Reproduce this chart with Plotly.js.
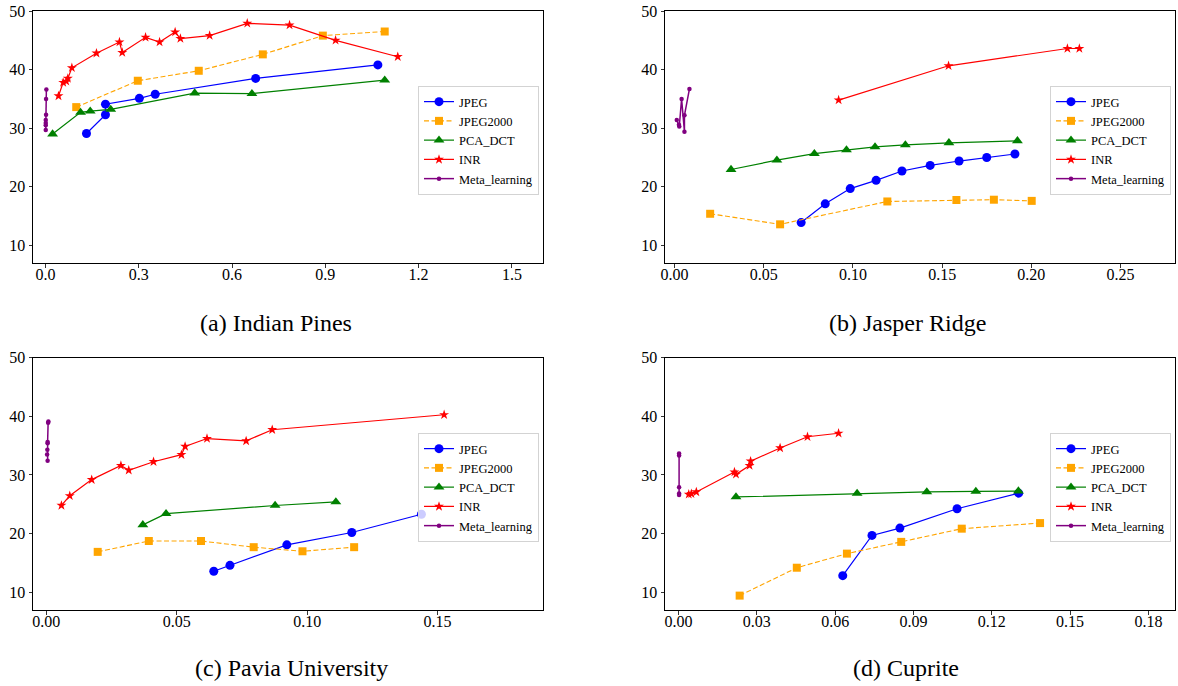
<!DOCTYPE html>
<html>
<head>
<meta charset="utf-8">
<script src="https://cdn.plot.ly/plotly-3.0.1.min.js"></script>
<style>
html,body{margin:0;padding:0;background:#fff;}
#chart{width:1178px;height:686px;}
</style>
</head>
<body>
<div id="chart"></div>
<script>
// ---------- data ----------
var seriesNames = ["JPEG", "JPEG2000", "PCA_DCT", "INR", "Meta_learning"];
var captions = ["(a) Indian Pines", "(b) Jasper Ridge", "(c) Pavia University", "(d) Cuprite"];
var yTickVals = [10, 20, 30, 40, 50];

// (a) Indian Pines
var ipJpegX = [0.132, 0.193, 0.193, 0.302, 0.353, 0.676, 1.069];
var ipJpegY = [29.1, 32.3, 34.1, 35.1, 35.8, 38.5, 40.8];
var ipJ2kX = [0.099, 0.297, 0.493, 0.699, 0.892, 1.091];
var ipJ2kY = [33.6, 38.1, 39.8, 42.6, 45.8, 46.5];
var ipPcaX = [0.023, 0.113, 0.144, 0.210, 0.480, 0.664, 1.091];
var ipPcaY = [29.0, 32.7, 32.9, 33.2, 36.0, 35.9, 38.2];
var ipInrX = [0.042, 0.057, 0.067, 0.072, 0.085, 0.164, 0.238, 0.247, 0.322, 0.367, 0.417, 0.434, 0.528, 0.649, 0.785, 0.933, 1.133];
var ipInrY = [35.5, 37.8, 38.0, 38.5, 40.3, 42.8, 44.7, 42.9, 45.5, 44.7, 46.4, 45.3, 45.8, 47.9, 47.6, 45.0, 42.2];
var ipMetaX = [0.003, 0.002, 0.002, 0.001, 0.001, 0.001, 0.001];
var ipMetaY = [36.6, 35.0, 32.3, 31.4, 30.9, 30.5, 29.7];
var ipTickVals = [0.0, 0.3, 0.6, 0.9, 1.2, 1.5];

// (b) Jasper Ridge
var jrJpegX = [0.0710, 0.0845, 0.0985, 0.1130, 0.1275, 0.1433, 0.1595, 0.1750, 0.1908];
var jrJpegY = [13.9, 17.1, 19.7, 21.1, 22.7, 23.65, 24.4, 25.0, 25.6];
var jrJ2kX = [0.0200, 0.0592, 0.1193, 0.1580, 0.1790, 0.2002];
var jrJ2kY = [15.4, 13.6, 17.5, 17.75, 17.8, 17.6];
var jrPcaX = [0.0317, 0.0574, 0.0784, 0.0964, 0.1124, 0.1294, 0.1538, 0.1922];
var jrPcaY = [22.95, 24.55, 25.65, 26.3, 26.8, 27.15, 27.5, 27.85];
var jrInrX = [0.0920, 0.1536, 0.2202, 0.2269];
var jrInrY = [34.8, 40.65, 43.6, 43.6];
var jrMetaX = [0.0013, 0.0025, 0.0027, 0.0040, 0.0056, 0.0056, 0.0084];
var jrMetaY = [31.4, 30.6, 30.3, 35.0, 29.4, 32.2, 36.7];
var jrTickVals = [0.00, 0.05, 0.10, 0.15, 0.20, 0.25];

// (c) Pavia University
var puJpegX = [0.0642, 0.0704, 0.0922, 0.1171, 0.1438];
var puJpegY = [13.6, 14.6, 18.1, 20.2, 23.3];
var puJ2kX = [0.0197, 0.0393, 0.0593, 0.0795, 0.0982, 0.1180];
var puJ2kY = [16.9, 18.75, 18.75, 17.7, 17.0, 17.7];
var puPcaX = [0.0370, 0.0459, 0.0877, 0.1110];
var puPcaY = [21.5, 23.4, 24.8, 25.4];
var puInrX = [0.0058, 0.0090, 0.0174, 0.0286, 0.0316, 0.0411, 0.0518, 0.0532, 0.0616, 0.0766, 0.0866, 0.1525];
var puInrY = [24.8, 26.45, 29.2, 31.6, 30.8, 32.25, 33.45, 34.85, 36.2, 35.8, 37.7, 40.25];
var puMetaX = [0.0008, 0.0007, 0.0005, 0.0005, 0.0004, 0.0003, 0.0005];
var puMetaY = [39.1, 38.9, 35.6, 35.4, 34.3, 33.5, 32.4];
var puTickVals = [0.00, 0.05, 0.10, 0.15];

// (d) Cuprite
var cuJpegX = [0.0629, 0.0741, 0.0848, 0.1067, 0.1303];
var cuJpegY = [12.85, 19.7, 20.95, 24.25, 26.9];
var cuJ2kX = [0.0234, 0.0453, 0.0645, 0.0853, 0.1085, 0.1385];
var cuJ2kY = [9.45, 14.2, 16.6, 18.6, 20.85, 21.8];
var cuPcaX = [0.0220, 0.0684, 0.0951, 0.1139, 0.1302];
var cuPcaY = [26.25, 26.85, 27.1, 27.2, 27.25];
var cuInrX = [0.0039, 0.0049, 0.0068, 0.0214, 0.0220, 0.0272, 0.0276, 0.0389, 0.0494, 0.0613];
var cuInrY = [26.7, 26.8, 27.1, 30.5, 30.1, 31.6, 32.35, 34.6, 36.5, 37.1];
var cuMetaX = [0.0002, 0.0002, 0.0002, 0.0002, 0.0002];
var cuMetaY = [33.65, 33.3, 27.9, 26.85, 26.6];
var cuTickVals = [0.00, 0.03, 0.06, 0.09, 0.12, 0.15, 0.18];

// ---------- styling ----------
var FONT = "'Liberation Serif', 'Times New Roman', Times, serif";
var styles = [
  {color: "blue",   symbol: "circle",      size: 9,   dash: "solid",        width: 1.2},
  {color: "orange", symbol: "square",      size: 8,   dash: "5px,2.5px",    width: 1.1},
  {color: "green",  symbol: "triangle-up", size: 9.5, dash: "solid",        width: 1.2},
  {color: "red",    symbol: "star",        size: 7.5, dash: "solid",        width: 1.2},
  {color: "purple", symbol: "circle",      size: 4.5, dash: "solid",        width: 1.5}
];

var panels = [
  {xs: [ipJpegX, ipJ2kX, ipPcaX, ipInrX, ipMetaX], ys: [ipJpegY, ipJ2kY, ipPcaY, ipInrY, ipMetaY],
   ticks: ipTickVals, dec: 1, range: [-0.04, 1.6]},
  {xs: [jrJpegX, jrJ2kX, jrPcaX, jrInrX, jrMetaX], ys: [jrJpegY, jrJ2kY, jrPcaY, jrInrY, jrMetaY],
   ticks: jrTickVals, dec: 2, range: [-0.0053, 0.2805]},
  {xs: [puJpegX, puJ2kX, puPcaX, puInrX, puMetaX], ys: [puJpegY, puJ2kY, puPcaY, puInrY, puMetaY],
   ticks: puTickVals, dec: 2, range: [-0.0051, 0.1904]},
  {xs: [cuJpegX, cuJ2kX, cuPcaX, cuInrX, cuMetaX], ys: [cuJpegY, cuJ2kY, cuPcaY, cuInrY, cuMetaY],
   ticks: cuTickVals, dec: 2, range: [-0.0052, 0.1902]}
];

var W = 1178, H = 686;
// pixel boxes of the four axes [left, right, top, bottom]
var boxes = [[33, 543, 11, 263], [665, 1175, 11, 263], [33, 543, 357.5, 610], [665, 1175, 357.5, 610]];
var legendPos = [[418, 86], [1050, 86], [418, 433], [1050, 433]];
var captionPos = [[276, 323], [907, 323], [291, 668], [906, 668]];

var data = [];
var layout = {
  width: W, height: H,
  margin: {l: 0, r: 0, t: 0, b: 0},
  paper_bgcolor: "#fff", plot_bgcolor: "#fff",
  font: {family: FONT, color: "#000", size: 16},
  annotations: []
};

panels.forEach(function (p, i) {
  var ax = i === 0 ? "" : String(i + 1);
  var legName = i === 0 ? "legend" : "legend" + (i + 1);
  for (var s = 0; s < 5; s++) {
    var st = styles[s];
    data.push({
      type: "scatter", mode: "lines+markers",
      x: p.xs[s], y: p.ys[s], name: seriesNames[s],
      xaxis: "x" + ax, yaxis: "y" + ax, legend: legName,
      line: {color: st.color, width: st.width, dash: st.dash},
      marker: {color: st.color, symbol: st.symbol, size: st.size, line: {width: 0}},
      cliponaxis: false
    });
  }
  var b = boxes[i];
  var common = {
    showline: true, mirror: true, linecolor: "#000", linewidth: 1,
    ticks: "outside", ticklen: 3.5, tickwidth: 0.8, tickcolor: "#000",
    showgrid: false, zeroline: false,
    tickfont: {family: FONT, size: 16, color: "#000"}
  };
  layout["xaxis" + ax] = Object.assign({}, common, {
    domain: [b[0] / W, b[1] / W], anchor: "y" + ax,
    range: p.range, tickmode: "array", tickvals: p.ticks,
    ticktext: p.ticks.map(function (v) { return v.toFixed(p.dec); }),
    ticklabelstandoff: -7
  });
  layout["yaxis" + ax] = Object.assign({}, common, {
    domain: [1 - b[3] / H, 1 - b[2] / H], anchor: "x" + ax,
    range: [7, 50], tickmode: "array", tickvals: yTickVals,
    ticktext: yTickVals.map(String)
  });
  layout[legName] = {
    x: legendPos[i][0] / W, y: 1 - legendPos[i][1] / H, xanchor: "left", yanchor: "top",
    xref: "paper", yref: "paper",
    bgcolor: "rgba(255,255,255,0.8)", bordercolor: "#d3d3d3", borderwidth: 1,
    font: {family: FONT, size: 12.5, color: "#000"},
    itemwidth: 30, tracegroupgap: 0
  };
  layout.annotations.push({
    text: captions[i], xref: "paper", yref: "paper",
    x: captionPos[i][0] / W, y: 1 - captionPos[i][1] / H,
    xanchor: "center", yanchor: "middle", showarrow: false,
    font: {family: FONT, size: 24, color: "#000"}
  });
});

Plotly.newPlot("chart", data, layout, {displayModeBar: false, staticPlot: true});
</script>
</body>
</html>
